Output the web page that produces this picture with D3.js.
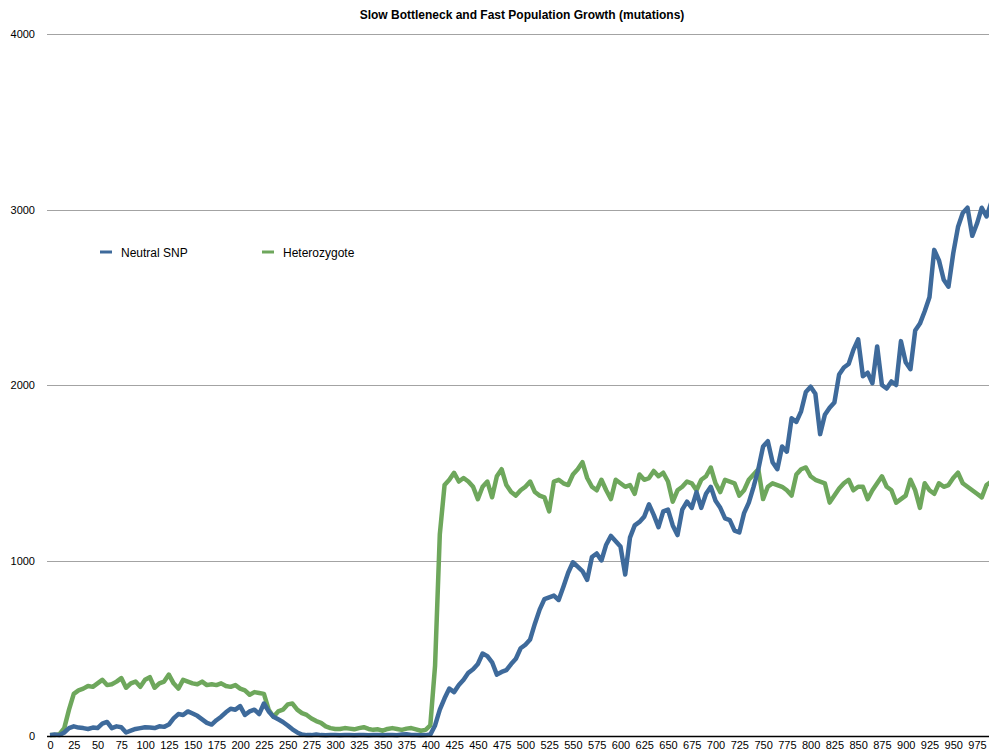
<!DOCTYPE html>
<html>
<head>
<meta charset="utf-8">
<script src="https://cdn.jsdelivr.net/npm/d3@7"></script>
<style>
  html, body { margin: 0; padding: 0; background: #fff; }
  svg { display: block; font-family: "Liberation Sans", Arial, Helvetica, sans-serif; }
</style>
</head>
<body>
<svg id="chart" width="989" height="755"></svg>
<script>
// ---- data ----
const title = "Slow Bottleneck and Fast Population Growth (mutations)";
const seriesNames = ["Neutral SNP", "Heterozygote"];
const yTicks = [0, 1000, 2000, 3000, 4000];
const xTickLabels = [0,25,50,75,100,125,150,175,200,225,250,275,300,325,350,375,400,425,450,475,500,525,550,575,600,625,650,675,700,725,750,775,800,825,850,875,900,925,950,975];

// generation index (every 5 generations)
const generations = [
  0,5,10,15,20,25,30,35,40,45,50,55,60,65,70,75,80,85,90,95,
  100,105,110,115,120,125,130,135,140,145,150,155,160,165,170,175,180,185,190,195,
  200,205,210,215,220,225,230,235,240,245,250,255,260,265,270,275,280,285,290,295,
  300,305,310,315,320,325,330,335,340,345,350,355,360,365,370,375,380,385,390,395,
  400,405,410,415,420,425,430,435,440,445,450,455,460,465,470,475,480,485,490,495,
  500,505,510,515,520,525,530,535,540,545,550,555,560,565,570,575,580,585,590,595,
  600,605,610,615,620,625,630,635,640,645,650,655,660,665,670,675,680,685,690,695,
  700,705,710,715,720,725,730,735,740,745,750,755,760,765,770,775,780,785,790,795,
  800,805,810,815,820,825,830,835,840,845,850,855,860,865,870,875,880,885,890,895,
  900,905,910,915,920,925,930,935,940,945,950,955,960,965,970,975,980,985,990
];

const neutralSNP = [
  5,8,5,20,45,55,48,45,40,48,45,70,80,45,55,50,20,30,40,45,
  50,48,45,55,52,65,100,125,120,140,128,115,95,75,65,90,110,135,155,150,
  170,120,140,150,125,185,140,110,95,80,60,38,20,8,5,5,8,5,4,6,
  5,4,6,5,4,5,6,4,5,5,4,6,5,4,8,10,6,5,4,5,
  8,60,150,215,270,250,290,320,360,380,410,470,455,420,350,365,375,410,440,500,
  520,550,640,720,780,790,800,775,850,930,990,965,940,890,1020,1040,1000,1090,1140,1110,
  1080,920,1130,1200,1220,1250,1320,1260,1190,1280,1290,1200,1145,1290,1335,1300,1390,1300,1380,1420,
  1340,1300,1240,1230,1170,1160,1270,1330,1420,1520,1650,1680,1560,1520,1650,1620,1810,1790,1850,1960,
  1990,1950,1720,1830,1870,1900,2060,2100,2120,2200,2260,2050,2070,2010,2220,2000,1980,2020,2000,2250,
  2130,2090,2310,2350,2420,2500,2770,2710,2600,2560,2750,2900,2980,3010,2850,2920,3010,2960,3040
];

const heterozygote = [
  5,5,10,45,150,240,260,270,285,280,300,320,290,295,310,330,275,300,310,280,
  320,335,275,300,310,350,300,270,320,310,300,295,310,290,295,290,300,285,280,290,
  270,260,235,250,245,240,150,110,140,150,180,185,150,130,120,100,85,75,55,45,
  40,40,45,42,38,45,50,40,35,38,30,40,45,40,35,42,45,38,30,35,
  60,400,1150,1430,1460,1500,1450,1470,1450,1420,1350,1420,1450,1360,1480,1520,1430,1390,1370,1400,
  1420,1450,1390,1370,1360,1280,1450,1460,1440,1430,1490,1520,1560,1470,1420,1400,1460,1400,1350,1460,
  1440,1420,1430,1380,1490,1460,1470,1510,1480,1500,1450,1335,1400,1420,1450,1440,1400,1460,1480,1530,
  1440,1390,1460,1450,1440,1370,1400,1460,1490,1520,1350,1420,1440,1430,1420,1400,1370,1490,1520,1530,
  1480,1460,1450,1440,1330,1370,1410,1440,1460,1400,1420,1420,1350,1400,1440,1480,1420,1400,1330,1350,
  1370,1460,1400,1300,1440,1400,1380,1440,1420,1430,1470,1500,1440,1420,1400,1380,1360,1430,1450
];

const colors = ["#3e6a9b", "#6ea75c"];

// ---- chart ----
const W = 989, H = 755;
const svg = d3.select("#chart");

const x = d3.scaleLinear().domain([0, 975]).range([50, 977]);
const y = d3.scaleLinear().domain([0, 4000]).range([736, 34]);

// title
svg.append("text")
  .attr("x", 522).attr("y", 19)
  .attr("text-anchor", "middle")
  .attr("font-size", 12).attr("font-weight", "bold")
  .attr("fill", "#000")
  .text(title);

// gridlines + y labels
const yAxis = d3.axisLeft(y).tickValues(yTicks).tickSize(0).tickPadding(12)
  .tickFormat(d3.format("d"));
const gy = svg.append("g").attr("transform", "translate(47,0)").call(yAxis);
gy.select(".domain").remove();
gy.selectAll("text").attr("font-size", 11).attr("fill", "#000")
  .attr("font-family", "'Liberation Sans', Arial, sans-serif");
svg.append("g").selectAll("line")
  .data(yTicks.filter(d => d > 0))
  .join("line")
  .attr("x1", 47).attr("x2", W)
  .attr("y1", d => Math.round(y(d)) + 0.5).attr("y2", d => Math.round(y(d)) + 0.5)
  .attr("stroke", "#a3a3a3").attr("stroke-width", 1);

// lines
const line = d3.line()
  .x((d, i) => x(generations[i]))
  .y(d => y(d))
  .curve(d3.curveLinear);

svg.append("clipPath").attr("id", "plotclip")
  .append("rect").attr("x", 40).attr("y", 20).attr("width", W - 40).attr("height", 718);

const plot = svg.append("g").attr("clip-path", "url(#plotclip)");
[[heterozygote, colors[1]], [neutralSNP, colors[0]]].forEach(([vals, c]) => {
  plot.append("path")
    .datum(vals)
    .attr("fill", "none")
    .attr("stroke", c)
    .attr("stroke-width", 4.5)
    .attr("stroke-linejoin", "round")
    .attr("d", line);
});

// x axis
const xAxis = d3.axisBottom(x).tickValues(xTickLabels).tickSize(0).tickPadding(5)
  .tickFormat(d3.format("d"));
const gx = svg.append("g").attr("transform", "translate(0,736)").call(xAxis);
gx.select(".domain").remove();
gx.selectAll("text").attr("font-size", 11).attr("fill", "#000")
  .attr("font-family", "'Liberation Sans', Arial, sans-serif");
svg.append("line")
  .attr("x1", 47).attr("x2", W)
  .attr("y1", 736.5).attr("y2", 736.5)
  .attr("stroke", "#000").attr("stroke-width", 1.5);

// legend
const legendX = [100, 262];
seriesNames.forEach((name, i) => {
  const g = svg.append("g").attr("transform", `translate(${legendX[i]},252)`);
  g.append("line").attr("x1", 0).attr("x2", 12).attr("y1", 0).attr("y2", 0)
    .attr("stroke", colors[i]).attr("stroke-width", 3);
  g.append("text").attr("x", 21).attr("y", 4.5)
    .attr("font-size", 12).attr("fill", "#000")
    .text(name);
});
</script>
</body>
</html>
